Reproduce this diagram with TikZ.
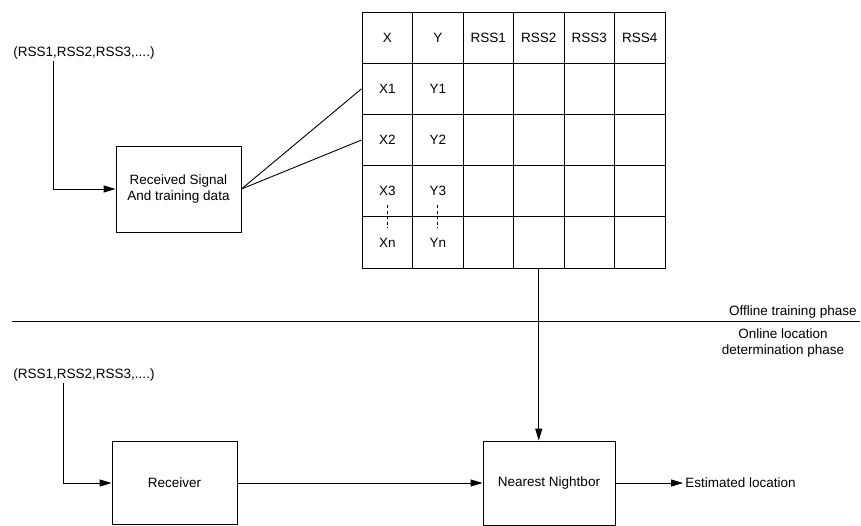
\documentclass[tikz,border=0pt]{standalone}
\usepackage{fontspec}
\setmainfont{Liberation Sans}
\usepackage{tikz}
\usetikzlibrary{arrows.meta,calc,positioning}

\begin{document}
\begin{tikzpicture}[x=1pt,y=-1pt,font=\fontsize{13.5}{16}\selectfont,line width=0.9pt,
  block/.style={draw,align=center,inner sep=0pt},
  cell/.style={draw,minimum width=50.5pt,minimum height=51.2pt,inner sep=0pt},
  arr/.style={-{Triangle[length=12pt,width=7pt]}},
  dots/.style={dash pattern=on 3pt off 2.5pt}]
\useasboundingbox (0,0) rectangle (861,525);
% offline part
\node[anchor=west,inner sep=1pt] (in1) at (12,53) {(RSS1,RSS2,RSS3,....)};
\node[block,minimum width=125pt,minimum height=86pt] (train) at (178.5,189) {Received Signal\\And training data};
\draw[arr] ([xshift=41pt]in1.south west) |- (train.west);
% fingerprint table
\foreach \t [count=\c] in {X,Y,RSS1,RSS2,RSS3,RSS4}
  \node[cell] (c1\c) at ({336.75+50.5*\c},37.6) {\t};
\foreach \a/\b [count=\r from 2] in {X1/Y1,X2/Y2,X3/Y3,Xn/Yn} {
  \node[cell] (c\r1) at (387.25,{-13.6+51.2*\r}) {\a};
  \node[cell] (c\r2) at (437.75,{-13.6+51.2*\r}) {\b};
  \foreach \c in {3,...,6}
    \node[cell] (c\r\c) at ({336.75+50.5*\c},{-13.6+51.2*\r}) {};
}
\draw[dots] ([yshift=-14pt]c41.center) -- ([yshift=15pt]c51.center);
\draw[dots] ([yshift=-14pt]c42.center) -- ([yshift=15pt]c52.center);
\draw (train.east) -- (c21.west);
\draw (train.east) -- (c31.west);
% phase line
\coordinate (divl) at (12,321);
\coordinate (divr) at (860,321);
\draw (divl) -- (divr);
\node[anchor=base east,inner sep=1pt] (offl) at (858,315) {Offline training phase};
\node[anchor=base,align=center,inner sep=1pt] (onl) at (783,354) {Online location\\determination phase};
% online part
\node[anchor=west,inner sep=1pt] (in2) at (12,375) {(RSS1,RSS2,RSS3,....)};
\node[block,minimum width=125pt,minimum height=83pt] (recv) at (174.5,483) {Receiver};
\node[block,minimum width=132pt,minimum height=84pt] (near) at (549,483) {Nearest Nightbor};
\node[anchor=west,inner sep=2pt] (est) at (683,483) {Estimated location};
\draw[arr] ([xshift=51pt]in2.south west) |- (recv.west);
\draw[arr] (recv.east) -- (near.west);
\draw[arr] (c54.south) -- (c54.south |- near.north);
\draw[arr] (near.east) -- (est.west);
\end{tikzpicture}
\end{document}
